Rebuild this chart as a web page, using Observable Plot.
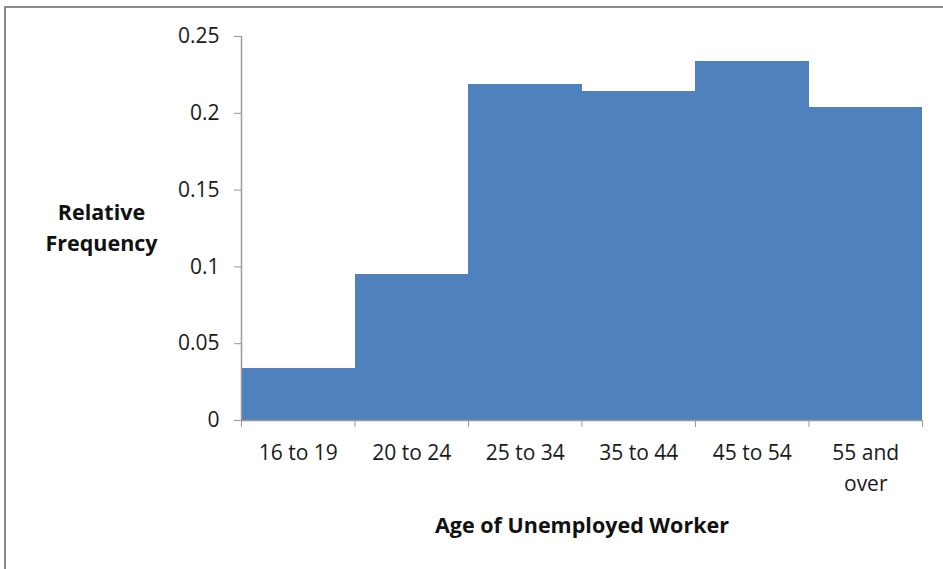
<!DOCTYPE html>
<html>
<head>
<meta charset="utf-8">
<script src="https://cdn.jsdelivr.net/npm/d3@7"></script>
<script src="https://cdn.jsdelivr.net/npm/@observablehq/plot@0.6"></script>
<style>
  html, body { margin: 0; padding: 0; background: #fff; overflow: hidden; }
  #frame { position: absolute; left: 4px; top: 6px; width: 1000px; height: 1000px; border: 2px solid #8a8a8a; box-sizing: border-box; }
  #chart { position: absolute; left: 0; top: 0; }
</style>
</head>
<body>
<div id="frame"></div>
<div id="chart"></div>
<script>
const categories = ["16 to 19", "20 to 24", "25 to 34", "35 to 44", "45 to 54", "55 and\nover"];
const relFreq = [0.034, 0.095, 0.219, 0.214, 0.234, 0.204];
const yTicks = [0, 0.05, 0.1, 0.15, 0.2, 0.25];
const yTickLabels = ["0", "0.05", "0.1", "0.15", "0.2", "0.25"];

const data = categories.map((c, i) => ({cat: c, i, v: relFreq[i]}));
const font = "'Open Sans', sans-serif";

const chart = Plot.plot({
  width: 943,
  height: 569,
  marginLeft: 241,
  marginRight: 21,
  marginTop: 36,
  marginBottom: 149,
  style: {fontFamily: font, fontSize: "21px", color: "#1a1a1a", background: "transparent"},
  x: {type: "linear", domain: [0, categories.length], axis: null},
  y: {domain: [0, 0.25], axis: null},
  marks: [
    Plot.rectY(data, {x1: "i", x2: d => d.i + 1, y1: 0, y2: "v", fill: "#4F81BD", shapeRendering: "crispEdges"}),
    Plot.axisY({ticks: yTicks, tickFormat: d => yTickLabels[yTicks.indexOf(d)], tickSize: 7, tickPadding: 15, stroke: "#999", fontSize: 21, label: null}),
    Plot.axisX({ticks: d3.range(categories.length + 1), tickFormat: () => "", tickSize: 7, stroke: "#999", label: null}),
    Plot.axisX({ticks: categories.map((c, i) => i + 0.5), tickFormat: d => categories[Math.floor(d)], tickSize: 0, tickPadding: 18, lineHeight: 1.45, fontSize: 21, label: null}),
    Plot.ruleY([0], {stroke: "#999", strokeWidth: 1.5}),
    Plot.ruleX([0], {stroke: "#999", strokeWidth: 1.5}),
    Plot.text(["Relative\nFrequency"], {frameAnchor: "left", dx: -140, dy: -3, textAnchor: "middle", fontWeight: "bold", fontSize: 21.5, lineHeight: 1.45, fill: "#111"}),
    Plot.text(["Age of Unemployed Worker"], {frameAnchor: "bottom", dy: 112, textAnchor: "middle", fontWeight: "bold", fontSize: 21.5, fill: "#111"})
  ]
});
document.getElementById("chart").appendChild(chart);
</script>
</body>
</html>
